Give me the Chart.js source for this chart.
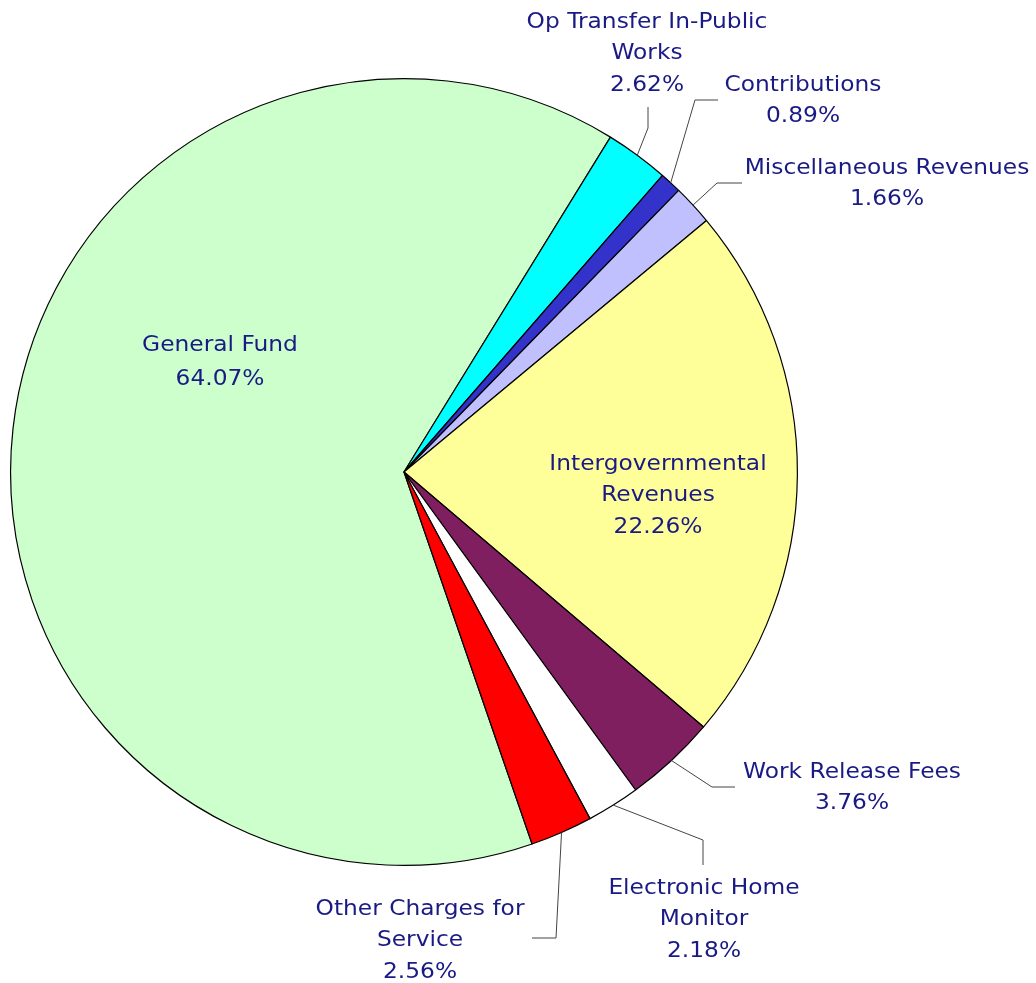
<!DOCTYPE html>
<html>
<head>
<meta charset="utf-8">
<script src="https://cdn.jsdelivr.net/npm/chart.js@4.4.0/dist/chart.umd.min.js"></script>
<style>
  html, body { margin: 0; padding: 0; background: #fff; }
  #wrap { width: 1036px; height: 983px; }
</style>
</head>
<body>
<div id="wrap"><canvas id="chart" width="1036" height="983"></canvas></div>
<script>
const categories = ['General Fund', 'Op Transfer In-Public Works', 'Contributions', 'Miscellaneous Revenues',
    'Intergovernmental Revenues', 'Work Release Fees', 'Electronic Home Monitor', 'Other Charges for Service']
const shares = [64.07, 2.62, 0.89, 1.66, 22.26, 3.76, 2.18, 2.56]
const labelLines = [
    ['General Fund'],
    ['Op Transfer In-Public', 'Works'],
    ['Contributions'],
    ['Miscellaneous Revenues'],
    ['Intergovernmental', 'Revenues'],
    ['Work Release Fees'],
    ['Electronic Home', 'Monitor'],
    ['Other Charges for', 'Service']
]
const sliceColors = ['#ccffcc', '#00ffff', '#3333cc', '#c0c0ff', '#ffff99', '#7f1f5f', '#ffffff', '#ff0000']

// label layout relative to the pie centre: text (centre x, first line y), and leader elbow/end
const labelLayout = [
    { text: [-184, -127], gap: 34 },
    { text: [243, -450], elbow: [244, -344], end: [244, -365] },
    { text: [399, -387], elbow: [291, -372], end: [314, -372] },
    { text: [483, -304], elbow: [313, -289], end: [338, -289] },
    { text: [254, -8] },
    { text: [448, 300], elbow: [308, 315], end: [331, 315] },
    { text: [300, 416], elbow: [299, 368], end: [299, 393] },
    { text: [16, 437], elbow: [152, 466], end: [128, 466] }
]

const textColor = '#1a1a85'
const lineHeight = 31.5
const stretchX = 1.06

const pieLabels = {
    id: 'pieLabels',
    afterDatasetsDraw(chart) {
        const { ctx } = chart
        const arcs = chart.getDatasetMeta(0).data
        ctx.save()
        ctx.font = '22px "DejaVu Sans"'
        ctx.textAlign = 'center'
        ctx.textBaseline = 'middle'
        arcs.forEach((arc, i) => {
            const { x, y, startAngle, endAngle, outerRadius } = arc.getProps(['x', 'y', 'startAngle', 'endAngle', 'outerRadius'], true)
            const lay = labelLayout[i]
            if (lay.elbow) {
                const mid = (startAngle + endAngle) / 2
                ctx.strokeStyle = '#444'
                ctx.lineWidth = 1
                ctx.beginPath()
                ctx.moveTo(x + Math.cos(mid) * outerRadius, y + Math.sin(mid) * outerRadius)
                ctx.lineTo(x + lay.elbow[0], y + lay.elbow[1])
                ctx.lineTo(x + lay.end[0], y + lay.end[1])
                ctx.stroke()
            }
            const lines = [...labelLines[i], shares[i].toFixed(2) + '%']
            const gap = lay.gap || lineHeight
            ctx.fillStyle = textColor
            lines.forEach((line, k) => {
                ctx.save()
                ctx.translate(x + lay.text[0], y + lay.text[1] + k * gap)
                ctx.scale(stretchX, 1)
                ctx.fillText(line, 0, 0)
                ctx.restore()
            })
        })
        ctx.restore()
    }
}

new Chart(document.getElementById('chart'), {
    type: 'pie',
    data: {
        labels: categories,
        datasets: [{
            data: shares,
            backgroundColor: sliceColors,
            borderColor: '#000',
            borderWidth: 1.2,
            hoverOffset: 0
        }]
    },
    options: {
        responsive: false,
        animation: false,
        rotation: 161,
        layout: { padding: { left: 10, right: 238, top: 78, bottom: 117 } },
        plugins: {
            legend: { display: false },
            tooltip: { enabled: false }
        }
    },
    plugins: [pieLabels]
})
</script>
</body>
</html>
